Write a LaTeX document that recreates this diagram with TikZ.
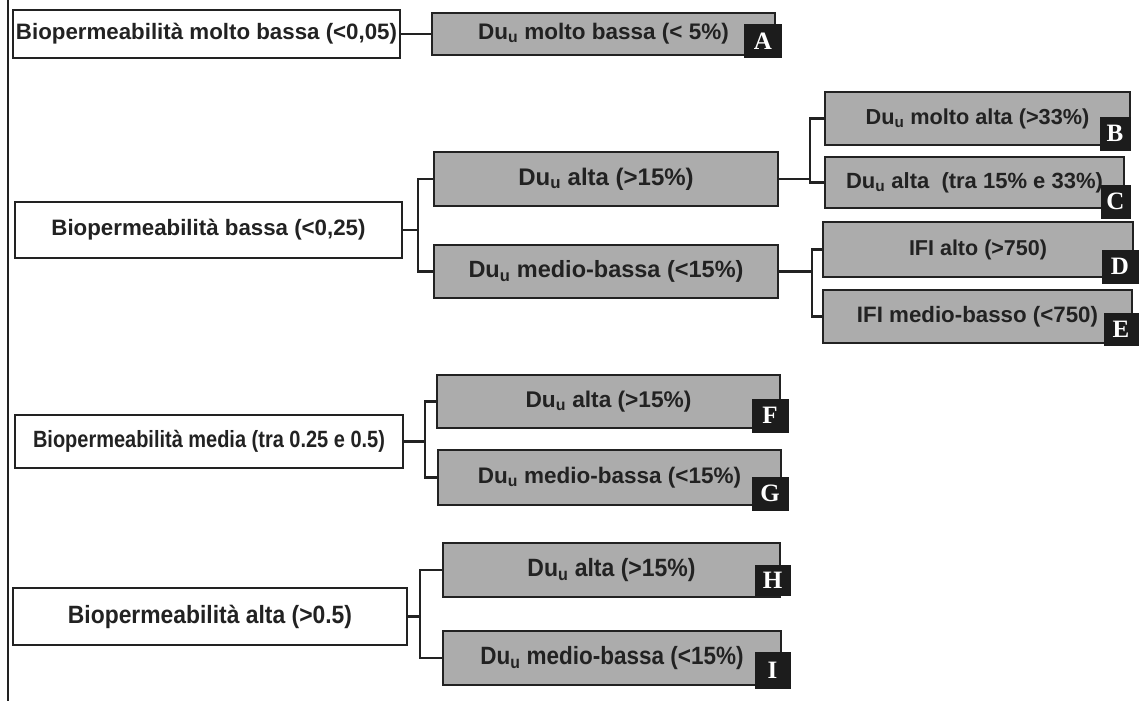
\documentclass[tikz,border=0pt]{standalone}
\usepackage{fontspec}
\setmainfont{Liberation Sans}
\newfontfamily\narrowA[FakeStretch=0.85]{Liberation Sans}
\newfontfamily\narrowB[FakeStretch=0.915]{Liberation Sans}
\newfontfamily\narrowC[FakeStretch=0.92]{Liberation Sans}
\newfontfamily\narrowD[FakeStretch=0.9]{Liberation Sans}
\newfontfamily\letterfont{Liberation Serif}
\definecolor{boxgray}{RGB}{172,172,172}
\definecolor{ink}{RGB}{34,34,34}
\definecolor{tagfill}{RGB}{28,28,28}
\newcommand{\Duu}{Du\textsubscript{u}}
\newcommand{\fs}[1]{\bfseries\fontsize{#1}{#1}\selectfont}
\begin{document}
\begin{tikzpicture}[x=1pt,y=-1pt,
  lvl/.style={draw=ink,fill=white,text=ink,inner sep=0pt,line width=2.4pt},
  sub/.style={draw=ink,fill=boxgray,text=ink,inner sep=0pt,line width=2.4pt},
  tag/.style={draw=tagfill,fill=tagfill,text=white,inner sep=0pt,font=\letterfont\fs{25}},
  conn/.style={draw=ink,line width=2.2pt}]
\useasboundingbox (0,0) rectangle (1140,701);
\fill[white] (0,0) rectangle (1140,701);
% trunk
\coordinate (ttop) at (8,0);
\coordinate (tbot) at (8,701);
\draw[conn] (ttop) -- (tbot);

% level 1
\node[lvl,minimum width=387pt,minimum height=48pt,font=\fs{22.3}] (mb) at (206.5,34) {Biopermeabilità molto bassa (<0,05)};
\node[lvl,minimum width=387pt,minimum height=56pt,font=\fs{22.3}] (ba) at (208.5,230) {Biopermeabilità bassa (<0,25)};
\node[lvl,minimum width=388pt,minimum height=53pt,font=\narrowA\fs{23.5}] (me) at (209,441.5) {Biopermeabilità media (tra 0.25 e 0.5)};
\node[lvl,minimum width=394pt,minimum height=57pt,font=\narrowB\fs{25}] (al) at (210,616.5) {Biopermeabilità alta (>0.5)};

% level 2
\node[sub,minimum width=343pt,minimum height=42pt,font=\fs{22.5}] (A) at (603.5,34) {\Duu{} molto bassa (< 5\%)};
\node[sub,minimum width=344pt,minimum height=54pt,font=\fs{24}] (ba1) at (606,179) {\Duu{} alta (>15\%)};
\node[sub,minimum width=344pt,minimum height=53pt,font=\fs{23.5}] (ba2) at (606,271.5) {\Duu{} medio-bassa (<15\%)};
\node[sub,minimum width=343pt,minimum height=53pt,font=\fs{22.7}] (F) at (608.5,401.5) {\Duu{} alta (>15\%)};
\node[sub,minimum width=343pt,minimum height=55pt,font=\fs{22.5}] (G) at (609.5,477.5) {\Duu{} medio-bassa (<15\%)};
\node[sub,minimum width=337pt,minimum height=54pt,font=\narrowC\fs{25}] (H) at (611.5,570) {\Duu{} alta (>15\%)};
\node[sub,minimum width=338pt,minimum height=54pt,font=\narrowD\fs{25}] (I) at (612,658) {\Duu{} medio-bassa (<15\%)};

% level 3
\node[sub,minimum width=305pt,minimum height=53pt,font=\fs{21.7}] (B) at (977.5,118.5) {\Duu{} molto alta (>33\%)};
\node[sub,minimum width=299pt,minimum height=51pt,font=\fs{22}] (C) at (974.5,182.5) {\Duu{} alta\ \ (tra 15\% e 33\%)};
\node[sub,minimum width=310pt,minimum height=55pt,font=\fs{21.5}] (D) at (978,249.5) {IFI alto (>750)};
\node[sub,minimum width=309pt,minimum height=53pt,font=\fs{22.3}] (E) at (977.5,316.5) {IFI medio-basso (<750)};

% letter tags
\node[tag,minimum width=37pt,minimum height=33pt] (tA) at (763,41) {A};
\node[tag,minimum width=30pt,minimum height=33pt] (tB) at (1115,133.5) {B};
\node[tag,minimum width=29pt,minimum height=33pt] (tC) at (1115.5,201.5) {C};
\node[tag,minimum width=36pt,minimum height=33pt] (tD) at (1120,266.5) {D};
\node[tag,minimum width=34pt,minimum height=32pt] (tE) at (1121,329) {E};
\node[tag,minimum width=36pt,minimum height=33pt] (tF) at (770,415.5) {F};
\node[tag,minimum width=36pt,minimum height=33pt] (tG) at (770,493.5) {G};
\node[tag,minimum width=35pt,minimum height=30pt] (tH) at (772.5,580) {H};
\node[tag,minimum width=35pt,minimum height=36pt] (tI) at (772.5,670) {I};

% connectors
\draw[conn] (mb.east) -- (A.west);

\coordinate (j1) at (418,230);
\draw[conn] (ba.east) -- (j1);
\draw[conn] (ba1.west) -| (j1) |- (ba2.west);

\coordinate (j2) at (810,179);
\draw[conn] (ba1.east) -- (j2);
\draw[conn] (B.west) -| (j2) |- (C.west);

\coordinate (j3) at (812,271.5);
\draw[conn] (ba2.east) -- (j3);
\draw[conn] (D.west) -| (j3) |- (E.west);

\coordinate (j4) at (425,441.5);
\draw[conn] (me.east) -- (j4);
\draw[conn] (F.west) -| (j4) |- (G.west);

\coordinate (j5) at (420,616.5);
\draw[conn] (al.east) -- (j5);
\draw[conn] (H.west) -| (j5) |- (I.west);
\end{tikzpicture}
\end{document}
